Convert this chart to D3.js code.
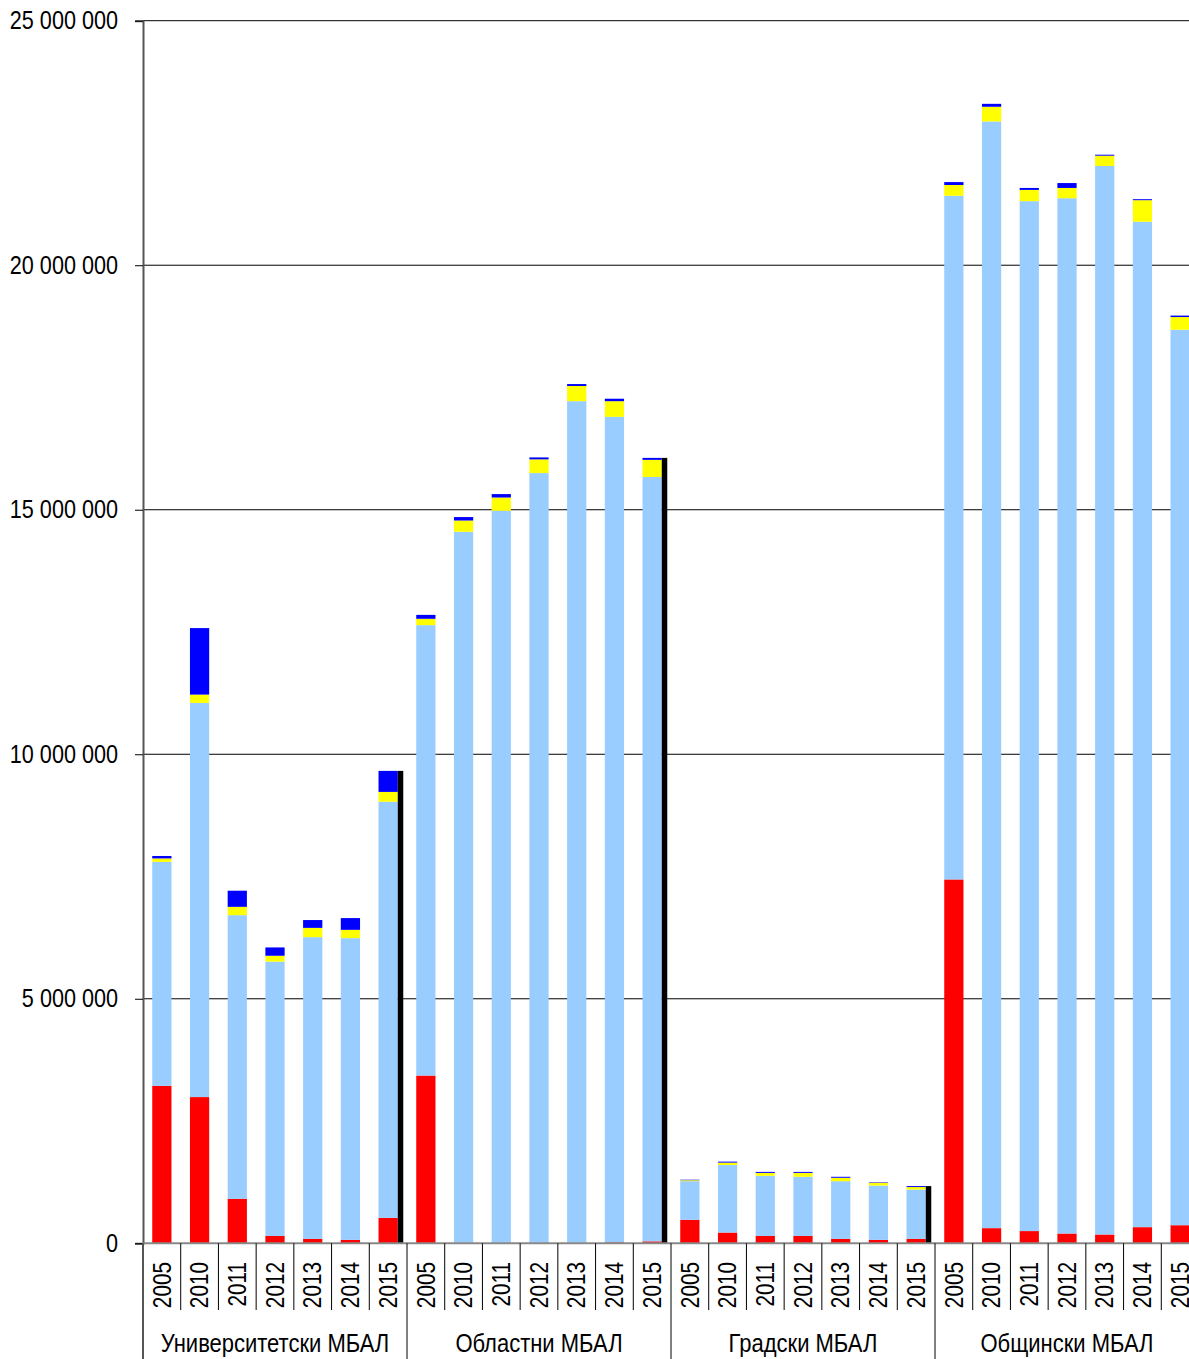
<!DOCTYPE html>
<html lang="bg">
<head>
    <meta charset="utf-8" />
    <style>
        body { margin: 0; background: #fff; }
        text {
            font-family: "Liberation Sans", Arial, sans-serif;
            font-size: 25px;
            fill: #000;
        }
        .grid { stroke: #000; stroke-width: 1px; }
        .sep { stroke: #000; stroke-width: 1px; }
    </style>
</head>
<body>
<svg width="1189" height="1359"></svg>
<script src="https://cdn.jsdelivr.net/npm/d3@7"></script>
<script>

    var groups = ["Университетски МБАЛ", "Областни МБАЛ", "Градски МБАЛ", "Общински МБАЛ"],
        years = ["2005", "2010", "2011", "2012", "2013", "2014", "2015"],
        yTicks = [0, 5000000, 10000000, 15000000, 20000000, 25000000];

    // values in millions, group by group, year by year
    var red = [
        3.22, 2.99, 0.91, 0.15, 0.09, 0.07, 0.52,
        3.43, 0.01, 0.01, 0.01, 0.01, 0.02, 0.04,
        0.48, 0.22, 0.15, 0.15, 0.09, 0.07, 0.09,
        7.44, 0.31, 0.25, 0.20, 0.18, 0.33, 0.37
    ];
    var lightBlue = [
        4.58, 8.06, 5.80, 5.61, 6.17, 6.17, 8.51,
        9.21, 14.54, 14.97, 15.74, 17.21, 16.88, 15.63,
        0.79, 1.38, 1.23, 1.21, 1.18, 1.11, 1.01,
        13.98, 22.63, 21.06, 21.17, 21.85, 20.56, 18.31
    ];
    var yellow = [
        0.07, 0.17, 0.17, 0.12, 0.19, 0.17, 0.20,
        0.13, 0.23, 0.27, 0.28, 0.31, 0.32, 0.35,
        0.02, 0.05, 0.06, 0.08, 0.07, 0.06, 0.05,
        0.22, 0.30, 0.23, 0.21, 0.21, 0.44, 0.26
    ];
    var blue = [
        0.05, 1.36, 0.33, 0.17, 0.16, 0.24, 0.43,
        0.08, 0.07, 0.07, 0.04, 0.04, 0.05, 0.04,
        0.01, 0.02, 0.02, 0.02, 0.02, 0.01, 0.02,
        0.06, 0.06, 0.04, 0.10, 0.02, 0.02, 0.03
    ];

    var seriesKeys = ["red", "lightBlue", "yellow", "blue"],
        colors = { red: "#ff0000", lightBlue: "#99ccff", yellow: "#ffff00", blue: "#0000ff" };

    var rows = [];
    groups.forEach(function(g, gi) {
        years.forEach(function(yr, yi) {
            var i = gi * years.length + yi;
            rows.push({
                key: gi + "-" + yr, group: gi, year: yr, last: yi === years.length - 1,
                red: red[i] * 1e6, lightBlue: lightBlue[i] * 1e6,
                yellow: yellow[i] * 1e6, blue: blue[i] * 1e6
            });
        });
    });

    var plotLeft = 143, plotRight = 1199, plotTop = 20.7, plotBottom = 1243.3,
        narrow = 0.83,        // squeeze for the condensed year digits
        narrowTick = 0.865,   // squeeze for the y tick labels
        narrowLabel = 0.88;   // squeeze for group names

    var x = d3.scaleBand()
        .domain(rows.map(function(d) { return d.key; }))
        .range([plotLeft, plotRight])
        .paddingInner(0.49)
        .paddingOuter(0.245);

    var y = d3.scaleLinear().domain([0, 25000000]).range([plotBottom, plotTop]);

    var svg = d3.select("svg");

    // gridlines
    svg.selectAll(".grid")
        .data(yTicks.slice(1))
        .enter().append("line")
        .attr("class", "grid")
        .attr("x1", plotLeft).attr("x2", 1189)
        .attr("y1", y).attr("y2", y);

    // stacked bars
    var stack = d3.stack().keys(seriesKeys)(rows);

    svg.append("g").selectAll("g")
        .data(stack)
        .enter().append("g")
        .attr("fill", function(s) { return colors[s.key]; })
        .selectAll("rect")
        .data(function(s) { return s; })
        .enter().append("rect")
        .attr("x", function(d) { return x(d.data.key); })
        .attr("width", x.bandwidth())
        .attr("y", function(d) { return y(d[1]); })
        .attr("height", function(d) { return y(d[0]) - y(d[1]); });

    // black shadow on last bar of each group
    function total(d) { return d.red + d.lightBlue + d.yellow + d.blue; }
    svg.append("g").selectAll("rect")
        .data(rows.filter(function(d) { return d.last; }))
        .enter().append("rect")
        .attr("fill", "#000")
        .attr("x", function(d) { return x(d.key) + x.bandwidth(); })
        .attr("width", 5.5)
        .attr("y", function(d) { return y(total(d)); })
        .attr("height", function(d) { return plotBottom - y(total(d)); });

    // y axis
    var yAxis = svg.append("g")
        .attr("transform", "translate(" + plotLeft + ",0)")
        .call(d3.axisLeft(y)
            .tickValues(yTicks)
            .tickSize(8)
            .tickPadding(17)
            .tickFormat(function(d) { return d3.format(",")(d).replace(/,/g, " "); }));
    yAxis.attr("font-size", null).attr("font-family", null);
    yAxis.select(".domain").attr("stroke", "#555").attr("stroke-width", 2);
    yAxis.selectAll(".tick line").attr("stroke", "#000");
    yAxis.selectAll(".tick text")
        .attr("x", -25 / narrowTick)
        .attr("transform", "scale(" + narrowTick + ",1)");

    // x axis line
    svg.append("line")
        .attr("x1", plotLeft).attr("x2", 1189)
        .attr("y1", plotBottom).attr("y2", plotBottom)
        .attr("stroke", "#888").attr("stroke-width", 2);

    // separators between years and groups
    var step = x.step();
    d3.range(1, rows.length).forEach(function(i) {
        var isGroup = i % years.length === 0;
        svg.append("line")
            .attr("class", "sep")
            .attr("x1", plotLeft + i * step).attr("x2", plotLeft + i * step)
            .attr("y1", plotBottom).attr("y2", isGroup ? 1359 : 1310);
    });
    svg.append("line")
        .attr("x1", plotLeft).attr("x2", plotLeft)
        .attr("y1", plotBottom).attr("y2", 1359)
        .attr("stroke", "#555").attr("stroke-width", 2);

    // year labels
    svg.append("g").selectAll("text")
        .data(rows)
        .enter().append("text")
        .attr("transform", function(d) {
            return "translate(" + (x(d.key) + x.bandwidth() / 2) + ",1262) rotate(-90) scale(" + narrow + ",1)";
        })
        .attr("text-anchor", "end")
        .attr("dy", "0.35em")
        .text(function(d) { return d.year; });

    // group labels
    svg.append("g").selectAll("text")
        .data(groups)
        .enter().append("text")
        .attr("transform", function(g, gi) {
            return "translate(" + (plotLeft + (gi + 0.5) * step * years.length) + ",1352) scale(" + narrowLabel + ",1)";
        })
        .attr("text-anchor", "middle")
        .text(function(g) { return g; });

</script>
</body>
</html>
